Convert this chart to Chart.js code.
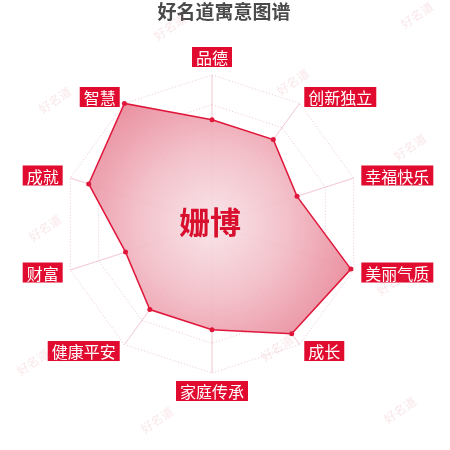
<!DOCTYPE html>
<html>
<head>
<meta charset="utf-8">
<script src="https://cdn.jsdelivr.net/npm/chart.js@4.4.1/dist/chart.umd.min.js"></script>
<style>
  html, body { margin: 0; padding: 0; background: #fff; }
</style>
</head>
<body>
<canvas id="radar" width="450" height="450"></canvas>
<script>
const labels = ['品德', '创新独立', '幸福快乐', '美丽气质', '成长', '家庭传承', '健康平安', '财富', '成就', '智慧'];
const scores = [70, 70, 60, 98, 91, 71, 71, 61, 87, 100];
const titleText = '好名道寓意图谱';
const nameText = '姗博';
const markText = '好名道';

// faint watermark spots scattered over the picture
const markSpots = [[170, 27], [417, 15], [293, 82], [55, 100], [410, 147], [45, 228],
  [393, 282], [33, 362], [277, 348], [157, 420], [400, 410]];

const FONT = '"Noto Sans CJK SC", "Noto Sans", sans-serif';

const decor = {
  id: 'decor',
  beforeDraw(chart) {
    const ctx = chart.ctx;
    ctx.save();
    ctx.font = 'bold 19px ' + FONT;
    ctx.fillStyle = '#4a4a4a';
    ctx.textAlign = 'center';
    ctx.textBaseline = 'middle';
    ctx.fillText(titleText, 224, 12);
    ctx.restore();
  },
  afterDatasetsDraw(chart) {
    const ctx = chart.ctx;
    const s = chart.scales.r;
    ctx.save();
    // name in the middle
    ctx.font = 'bold 31px ' + FONT;
    ctx.fillStyle = '#d8102e';
    ctx.textAlign = 'center';
    ctx.textBaseline = 'middle';
    ctx.fillText(nameText, s.xCenter - 2, s.yCenter - 2);

    // axis names in red boxes
    ctx.font = '16px ' + FONT;
    labels.forEach((lab, i) => {
      const p = s.getPointPosition(i, s.drawingArea + 8);
      const w = ctx.measureText(lab).width + 8;
      const h = 20;
      const ang = i * 360 / labels.length;
      let x, y;
      if (ang === 0) { x = p.x - w / 2; y = p.y - h; }
      else if (ang === 180) { x = p.x - w / 2; y = p.y; }
      else if (ang < 180) { x = p.x; y = p.y - h / 2; }
      else { x = p.x - w; y = p.y - h / 2; }
      ctx.fillStyle = '#e00b2e';
      ctx.fillRect(x, y, w, h);
      ctx.fillStyle = '#fff';
      ctx.fillText(lab, x + w / 2, y + h / 2 + 1);
    });
    ctx.restore();
  },
  afterDraw(chart) {
    const ctx = chart.ctx;
    ctx.save();
    ctx.font = '12px ' + FONT;
    ctx.fillStyle = 'rgba(225, 130, 145, 0.2)';
    ctx.textAlign = 'center';
    ctx.textBaseline = 'middle';
    markSpots.forEach(([x, y]) => {
      ctx.save();
      ctx.translate(x, y);
      ctx.rotate(-0.6);
      ctx.fillText(markText, 0, 0);
      ctx.restore();
    });
    ctx.restore();
  }
};

const fillGradient = (c) => {
  const s = c.chart.scales.r;
  if (!s || !s.drawingArea) return 'rgba(235,140,155,0.7)';
  const g = c.chart.ctx.createRadialGradient(s.xCenter, s.yCenter, 0, s.xCenter, s.yCenter, s.drawingArea);
  g.addColorStop(0, 'rgba(248, 228, 232, 0.92)');
  g.addColorStop(0.5, 'rgba(242, 188, 198, 0.92)');
  g.addColorStop(1, 'rgba(232, 135, 152, 0.92)');
  return g;
};

new Chart(document.getElementById('radar'), {
  type: 'radar',
  data: {
    labels: labels,
    datasets: [{
      data: scores,
      fill: true,
      backgroundColor: fillGradient,
      borderColor: '#e0173b',
      borderWidth: 1.5,
      pointRadius: 2.5,
      pointBorderWidth: 0,
      pointBackgroundColor: '#e0173b'
    }]
  },
  options: {
    responsive: false,
    animation: false,
    layout: { padding: { left: 63, right: 89, top: 75, bottom: 77 } },
    plugins: { legend: { display: false }, tooltip: { enabled: false } },
    scales: {
      r: {
        min: 0,
        max: 100,
        ticks: { display: false, stepSize: 20 },
        pointLabels: { display: false },
        grid: { circular: false, color: 'rgba(225, 160, 175, 0.6)', lineWidth: 1 },
        border: { dash: [1, 2] },
        angleLines: { color: 'rgba(232, 160, 175, 0.6)', lineWidth: 1 }
      }
    }
  },
  plugins: [decor]
});
</script>
</body>
</html>
